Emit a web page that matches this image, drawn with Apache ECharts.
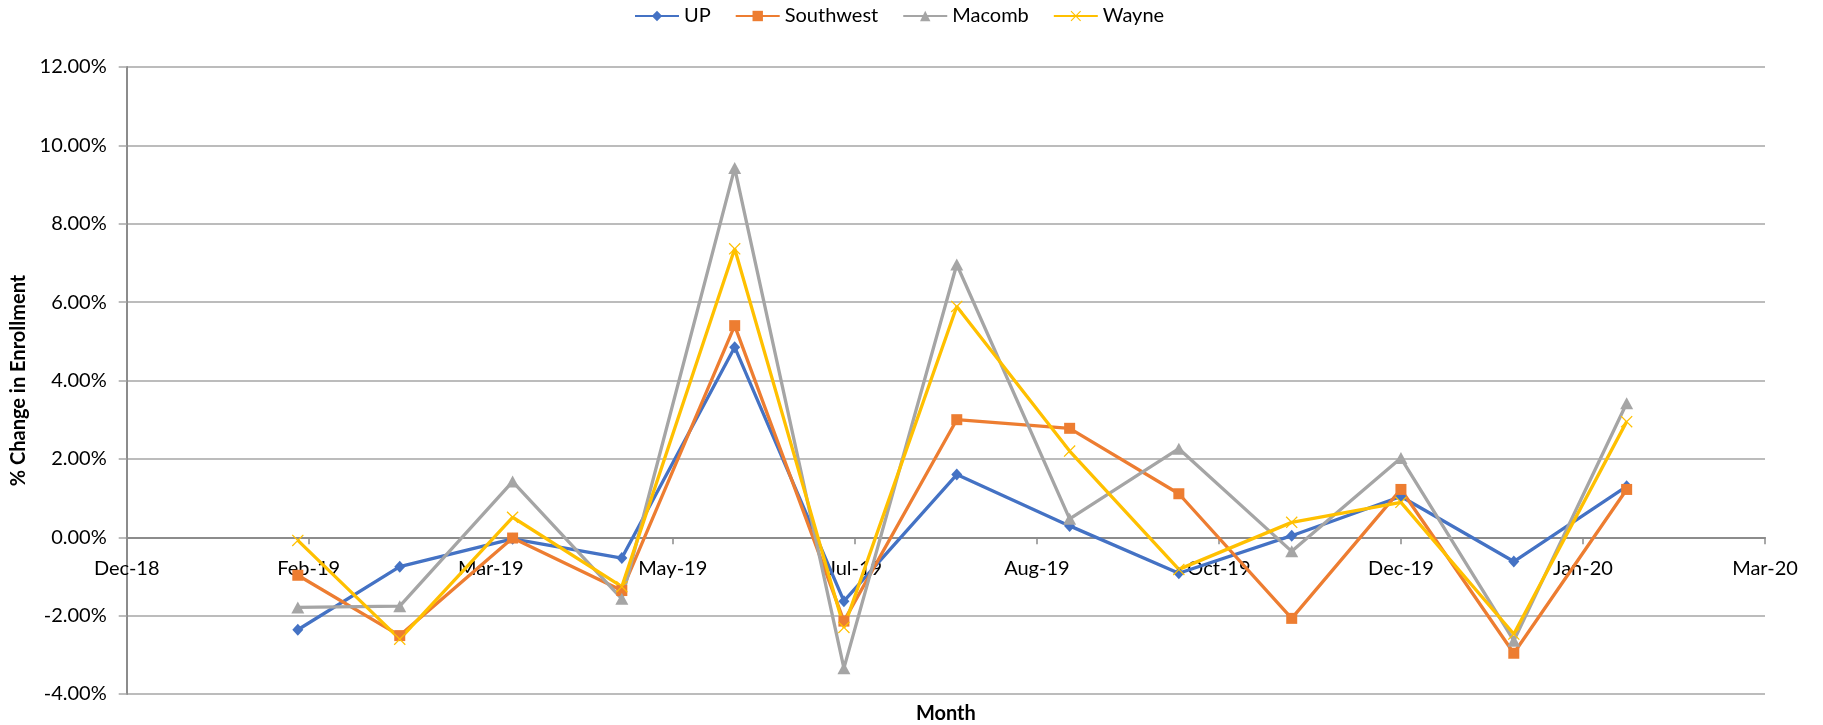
<!DOCTYPE html>
<html><head><meta charset="utf-8">
<script src="https://cdn.jsdelivr.net/npm/echarts@6/dist/echarts.min.js"></script>
<style>html,body{margin:0;padding:0;background:#fff}#c{width:1823px;height:725px}</style>
</head><body><div id="c"></div>
<script>
// ---- data ----
const axisStart = '2018-12-16';          // left end of the date axis
const tickStepDays = 50;                 // major unit of the date axis (days)
const tickLabels = ['Dec-18','Feb-19','Mar-19','May-19','Jul-19','Aug-19','Oct-19','Dec-19','Jan-20','Mar-20'];
const months = ['2019-02-01','2019-03-01','2019-04-01','2019-05-01','2019-06-01','2019-07-01',
                '2019-08-01','2019-09-01','2019-10-01','2019-11-01','2019-12-01','2020-01-01','2020-02-01'];
const seriesNames = ['UP','Southwest','Macomb','Wayne'];
const upVals        = [-2.36,-0.75,-0.04,-0.53, 4.85,-1.63, 1.60, 0.29,-0.92, 0.04, 1.04,-0.62, 1.30];
const southwestVals = [-0.97,-2.51,-0.02,-1.36, 5.40,-2.14, 3.00, 2.78, 1.11,-2.07, 1.22,-2.96, 1.22];
const macombVals    = [-1.79,-1.76, 1.42,-1.57, 9.42,-3.34, 6.96, 0.47, 2.26,-0.36, 2.02,-2.64, 3.42];
const wayneVals     = [-0.08,-2.60, 0.51,-1.26, 7.36,-2.30, 5.89, 2.20,-0.82, 0.38, 0.89,-2.47, 2.95];
const yTicks = {min:-4, max:12, step:2};

// ---- helpers ----
const DAY = 86400000;
function utc(s){const p=s.split('-').map(Number);return Date.UTC(p[0],p[1]-1,p[2]);}
function dayOffset(s){return Math.round((utc(s)-utc(axisStart))/DAY);}
function pts(vals){return months.map((m,i)=>[dayOffset(m), vals[i]]);}

const colors = ['#4472C4','#ED7D31','#A5A5A5','#FFC000'];
const xMark = 'path://M0,1.5L1.5,0L10,8.5L18.5,0L20,1.5L11.5,10L20,18.5L18.5,20L10,11.5L1.5,20L0,18.5L8.5,10Z';
const symbols = ['diamond','rect','triangle',xMark];
const symbolSizes = [[11,12],11,[13,12],12];
const allVals = [upVals, southwestVals, macombVals, wayneVals];

const FONT = 'Lato';
const chart = echarts.init(document.getElementById('c'), null, {renderer:'canvas'});
chart.setOption({
  animation:false,
  color: colors,
  textStyle:{fontFamily:FONT},
  legend:{
    data: seriesNames, left: 634, top: 6, padding: 0,
    itemWidth: 44, itemHeight: 13, itemGap: 24,
    textStyle:{fontFamily:FONT, fontSize:20, color:'#000'}
  },
  grid:{left:126.7, right:58, top:67, bottom:31, containLabel:false, outerBoundsMode:'none'},
  xAxis:{
    type:'value', min:0, max:tickStepDays*(tickLabels.length-1), interval:tickStepDays,
    offset:0,
    axisLine:{onZero:false, lineStyle:{color:'#8c8c8c', width:2}},
    axisTick:{show:true, length:7, inside:false, lineStyle:{color:'#8c8c8c', width:1.5}},
    splitLine:{show:false},
    axisLabel:{margin:21, fontFamily:FONT, fontSize:20, color:'#000',
      formatter:(v)=>tickLabels[Math.round(v/tickStepDays)]},
    name:'Month', nameLocation:'middle', nameGap:166,
    nameTextStyle:{fontFamily:FONT, fontSize:20, fontWeight:'bold', color:'#000'}
  },
  yAxis:{
    type:'value', min:yTicks.min, max:yTicks.max, interval:yTicks.step,
    axisLine:{show:true, onZero:false, lineStyle:{color:'#8c8c8c', width:2}},
    axisTick:{show:true, length:8, lineStyle:{color:'#a6a6a6', width:1.5}},
    splitLine:{show:true, lineStyle:{color:'#a6a6a6', width:1.5}},
    axisLabel:{margin:20, fontFamily:FONT, fontSize:20, color:'#000',
      formatter:(v)=>v.toFixed(2)+'%'},
    name:'% Change in Enrollment', nameLocation:'middle', nameGap:92,
    nameTextStyle:{fontFamily:FONT, fontSize:20, fontWeight:'bold', color:'#000'}
  },
  series: seriesNames.map((n,i)=>({
    name:n, type:'line', data:pts(allVals[i]),
    symbol:symbols[i], symbolSize:symbolSizes[i], showAllSymbol:true,
    lineStyle:{width:3.3, color:colors[i]},
    itemStyle:{color:colors[i]},
    emphasis:{disabled:true}
  }))
});
// move the date axis up so that it crosses the value axis at 0, like the original
const yZero = chart.convertToPixel({yAxisIndex:0}, 0);
const yBottom = chart.convertToPixel({yAxisIndex:0}, yTicks.min);
chart.setOption({xAxis:{offset: -(yBottom - yZero)}});
</script></body></html>
